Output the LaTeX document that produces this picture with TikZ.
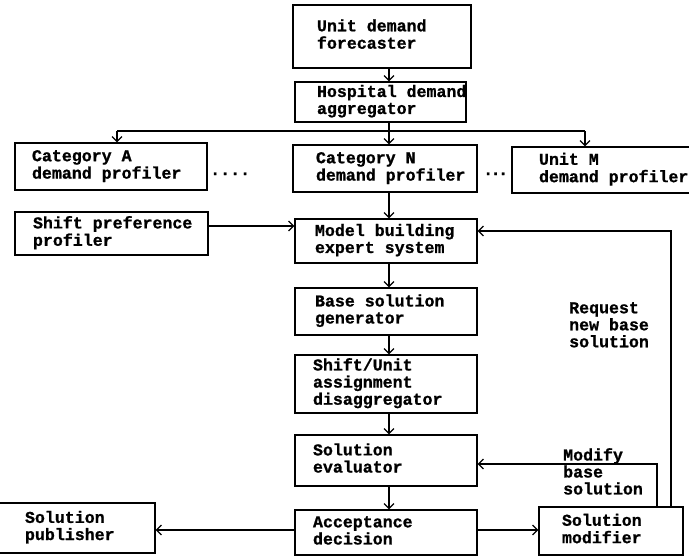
\documentclass[tikz,border=0pt]{standalone}
\usepackage{fontspec}
\newfontfamily\tw{Liberation Mono Bold}[FakeBold=1]
\usetikzlibrary{arrows.meta}
\newcommand\bt[2]{\spaceskip=0pt\xspaceskip=0pt\relax\begin{tabular}{@{\hspace{#1}}l@{}}#2\end{tabular}}
\newcommand\twfont{\tw\fontsize{16.6}{17}\selectfont\fontdimen2\font=9.96pt\fontdimen3\font=0pt\fontdimen4\font=0pt\relax}
\begin{document}
\begin{tikzpicture}[x=1pt,y=-1pt,
  txt/.style={font=\twfont},
  box/.style={txt, draw, line width=1.2pt, inner sep=0pt, align=left},
  lbl/.style={txt, inner sep=0pt, align=left, anchor=north west},
  dotsn/.style={txt, inner sep=0pt, anchor=base west},
  ln/.style={line width=1.2pt},
  arr/.style={line width=1.2pt, -{Straight Barb[length=5pt,width=10pt]}}]
\clip (0,0) rectangle (689,557);
% boxes
\node[box, text width=178pt, minimum height=63pt] (fc) at (382,36.5) {\bt{24pt}{Unit demand\\forecaster}};
\node[box, text width=171pt, minimum height=40pt] (agg) at (380.5,102) {\bt{22pt}{Hospital demand\\aggregator}};
\node[box, text width=192pt, minimum height=47pt] (catA) at (111,166.5) {\bt{17pt}{Category A\\demand profiler}};
\node[box, text width=184pt, minimum height=47pt] (catN) at (385,168.5) {\bt{23pt}{Category N\\demand profiler}};
\node[box, text width=208pt, minimum height=46pt] (unitM) at (616,170) {\bt{27pt}{Unit M\\demand profiler}};
\node[box, text width=193pt, minimum height=43pt] (shift) at (111.5,233.5) {\bt{18pt}{Shift preference\\profiler}};
\node[box, text width=182pt, minimum height=44pt] (model) at (386,241) {\bt{20pt}{Model building\\expert system}};
\node[box, text width=182pt, minimum height=47pt] (base) at (386,311.5) {\bt{20pt}{Base solution\\generator}};
\node[box, text width=182pt, minimum height=58pt] (dis) at (386,384) {\bt{18pt}{Shift/Unit\\assignment\\disaggregator}};
\node[box, text width=182pt, minimum height=51pt] (eval) at (386,460.5) {\bt{18pt}{Solution\\evaluator}};
\node[box, text width=182pt, minimum height=45pt] (acc) at (386,532.5) {\bt{18pt}{Acceptance\\decision}};
\node[box, text width=160pt, minimum height=50pt] (pub) at (75,528) {\bt{30pt}{Solution\\publisher}};
\node[box, text width=144pt, minimum height=48pt] (mod) at (611,531) {\bt{23pt}{Solution\\modifier}};
% labels and dots
\node[lbl] (req) at (569,302) {Request\\new base\\solution};
\node[lbl] (modl) at (563,448) {Modify\\base\\solution};
\node[dotsn] (d1) at (210,175) {....};
\node[dotsn] (d2) at (483,175) {.\kern-2.5pt.\kern-2.5pt.};
% connectors
\coordinate (sp) at (389,0);
\draw[arr] (fc.south -| sp) -- (agg.north -| sp);
\coordinate (bl) at (117,131);
\coordinate (br) at (585,131);
\draw[ln] (bl) -- (br);
\draw[arr] (bl) -- (catA.north -| bl);
\draw[arr] (br) -- (unitM.north -| br);
\draw[arr] (agg.south -| sp) -- (catN.north -| sp);
\draw[arr] (catN.south -| sp) -- (model.north -| sp);
\coordinate (a1) at (0,226);
\draw[arr] (shift.east |- a1) -- (model.west |- a1);
\draw[arr] (model.south -| sp) -- (base.north -| sp);
\draw[arr] (base.south -| sp) -- (dis.north -| sp);
\draw[arr] (dis.south -| sp) -- (eval.north -| sp);
\draw[arr] (eval.south -| sp) -- (acc.north -| sp);
\coordinate (r1) at (0,530);
\draw[arr] (acc.west |- r1) -- (pub.east |- r1);
\draw[arr] (acc.east |- r1) -- (mod.west |- r1);
\coordinate (m1) at (657,464);
\draw[arr] (mod.north -| m1) -- (m1) -- (eval.east |- m1);
\coordinate (q1) at (671,231);
\draw[arr] (mod.north -| q1) -- (q1) -- (model.east |- q1);
\end{tikzpicture}
\end{document}
